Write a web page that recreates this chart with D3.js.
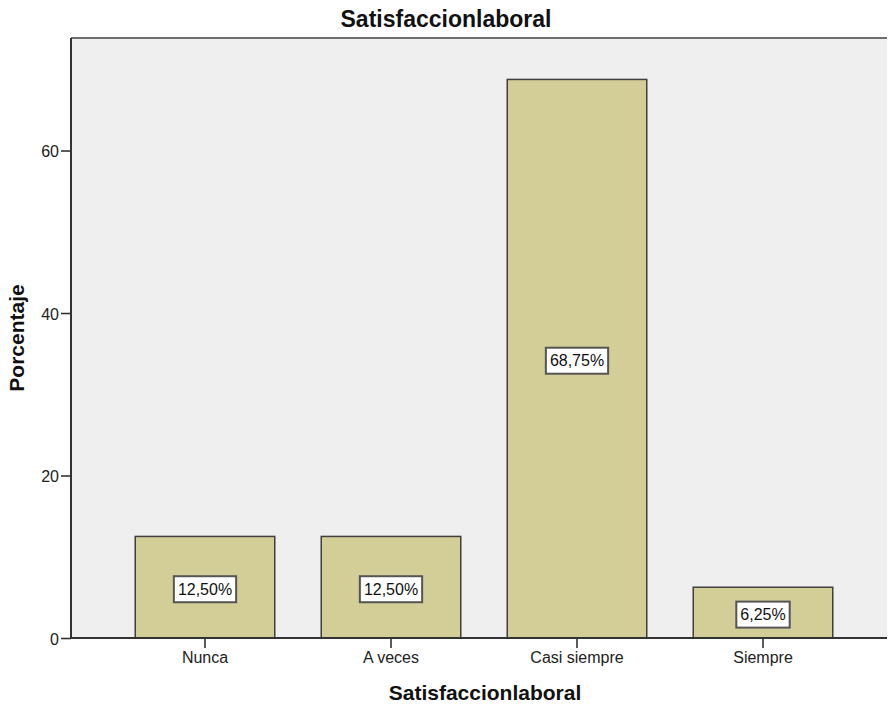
<!DOCTYPE html>
<html>
<head>
<meta charset="utf-8">
<script src="https://cdn.jsdelivr.net/npm/d3@7"></script>
<style>
  html, body { margin: 0; padding: 0; background: #fff; }
  svg { display: block; font-family: Arial, "Liberation Sans", sans-serif; }
</style>
</head>
<body>
<svg id="chart" width="888" height="704"></svg>
<script>
// Satisfacción laboral: porcentaje por categoría
const categories = ["Nunca", "A veces", "Casi siempre", "Siempre"];
const percentages = [12.5, 12.5, 68.75, 6.25];
const yTicks = [0, 20, 40, 60];
const chartTitle = "Satisfaccionlaboral";
const xTitle = "Satisfaccionlaboral";
const yTitle = "Porcentaje";

const svg = d3.select("#chart");
const plot = { left: 71, right: 887, top: 38, bottom: 638 };

const x = d3.scaleBand()
  .domain(categories)
  .range([112, 856])
  .paddingInner(0.25)
  .paddingOuter(0.125);

const y = d3.scaleLinear()
  .domain([0, 73.85])
  .range([plot.bottom, plot.top]);

// plot background
svg.append("rect")
  .attr("x", plot.left).attr("y", plot.top)
  .attr("width", plot.right - plot.left)
  .attr("height", plot.bottom - plot.top)
  .attr("fill", "#efefef");

// top frame line
svg.append("line")
  .attr("x1", plot.left).attr("x2", plot.right)
  .attr("y1", plot.top).attr("y2", plot.top)
  .attr("stroke", "#6e6e6e").attr("stroke-width", 2);

// bars
svg.append("g").selectAll("rect")
  .data(categories)
  .join("rect")
  .attr("x", d => x(d))
  .attr("y", (d, i) => y(percentages[i]))
  .attr("width", x.bandwidth())
  .attr("height", (d, i) => y(0) - y(percentages[i]))
  .attr("fill", "#d3ce97")
  .attr("stroke", "#3f3f3f")
  .attr("stroke-width", 1.5);

// axes
const yAxis = svg.append("g")
  .attr("transform", `translate(${plot.left},0)`)
  .call(d3.axisLeft(y).tickValues(yTicks).tickSize(10).tickPadding(2).tickSizeOuter(0));
const xAxis = svg.append("g")
  .attr("transform", `translate(0,${plot.bottom})`)
  .call(d3.axisBottom(x).tickSize(10).tickPadding(4).tickSizeOuter(0));

[yAxis, xAxis].forEach(g => {
  g.select(".domain").remove();
  g.selectAll("line").attr("stroke", "#333").attr("stroke-width", 1.6);
  g.selectAll("text")
    .attr("fill", "#222")
    .style("font-size", "16px")
    .style("font-family", "Arial, 'Liberation Sans', sans-serif");
});
yAxis.selectAll("text").attr("dy", "0.4em");

// axis lines
svg.append("line")
  .attr("x1", plot.left).attr("x2", plot.left)
  .attr("y1", plot.top).attr("y2", plot.bottom)
  .attr("stroke", "#333").attr("stroke-width", 2);
svg.append("line")
  .attr("x1", plot.left).attr("x2", plot.right)
  .attr("y1", plot.bottom).attr("y2", plot.bottom)
  .attr("stroke", "#333").attr("stroke-width", 2);

// value labels in boxes at mid-height of each bar
const fmt = v => d3.format(".2f")(v).replace(".", ",") + "%";
const labels = svg.append("g").selectAll("g")
  .data(categories)
  .join("g")
  .attr("transform", (d, i) =>
    `translate(${x(d) + x.bandwidth() / 2},${y(percentages[i] / 2) + 2})`);

labels.each(function (d, i) {
  const g = d3.select(this);
  const t = g.append("text")
    .attr("text-anchor", "middle")
    .attr("dy", "0.36em")
    .attr("fill", "#111")
    .style("font-size", "16px")
    .text(fmt(percentages[i]));
  const w = t.node().getComputedTextLength() + 8;
  g.insert("rect", "text")
    .attr("x", -w / 2).attr("y", -13)
    .attr("width", w).attr("height", 26)
    .attr("fill", "#fff")
    .attr("stroke", "#555")
    .attr("stroke-width", 2);
});

// titles
svg.append("text")
  .attr("x", 446).attr("y", 27)
  .attr("text-anchor", "middle")
  .style("font-size", "23px").style("font-weight", "bold")
  .attr("fill", "#111")
  .text(chartTitle);

svg.append("text")
  .attr("x", 485).attr("y", 700)
  .attr("text-anchor", "middle")
  .style("font-size", "21px").style("font-weight", "bold")
  .attr("fill", "#111")
  .text(xTitle);

svg.append("text")
  .attr("transform", "translate(24,338) rotate(-90)")
  .attr("text-anchor", "middle")
  .style("font-size", "21px").style("font-weight", "bold")
  .attr("fill", "#111")
  .text(yTitle);
</script>
</body>
</html>
